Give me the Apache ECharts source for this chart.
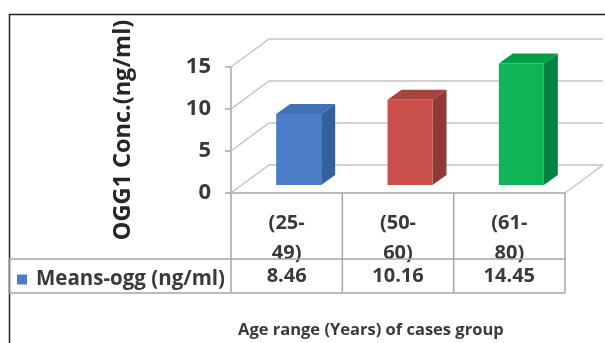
<!DOCTYPE html>
<html>
<head>
<meta charset="utf-8">
<script src="https://cdn.jsdelivr.net/npm/echarts@6/dist/echarts.min.js"></script>
<style>
  html, body { margin: 0; padding: 0; background: #fff; }
  #chart { width: 605px; height: 343px; }
</style>
</head>
<body>
<div id="chart"></div>
<script>
// ---- data ----
const categories = ['(25-\n49)', '(50-\n60)', '(61-\n80)'];
const meansOgg = [8.46, 10.16, 14.45];
const yTicks = [0, 5, 10, 15];
const seriesName = 'Means-ogg (ng/ml)';
const yTitle = 'OGG1 Conc.(ng/ml)';
const xTitle = 'Age range (Years) of cases group';

// ---- style ----
const FONT = '"Open Sans", Lato, sans-serif';
const TEXT = '#3a3a3a';
const GRID_LINE = '#c4c4c4';
const TABLE_LINE = '#a6a6a6';
const WALL_DEPTH = [38, -28];   // perspective offset of back wall / floor
const BAR_SHIFT = [12, -8];     // where the bar front face sits inside the floor
const BAR_DEPTH = [14, -10];    // depth of each bar
const BAR_WIDTH = 45;
const HEADER_H = 66;            // category row of the data table
const ROW_H = 34;               // value row of the data table
const LEGEND_LEFT = 9;
const faceColors = [
  { front: '#4a7ec8', side: '#35609f', top: '#4271b5' },
  { front: '#c9504b', side: '#8f3a38', top: '#a84440' },
  { front: '#10b356', side: '#00843f', top: '#009e48' }
];

// gridlines running along the side wall and back wall
function wallItem(params, api) {
  const cs = params.coordSys;
  const v = api.value(1);
  const y = api.coord([0, v])[1];
  const x0 = cs.x, x1 = cs.x + cs.width;
  const [dx, dy] = WALL_DEPTH;
  const children = [{
    type: 'polyline',
    shape: { points: [[x0, y], [x0 + dx, y + dy], [x1 + dx, y + dy]] },
    style: { stroke: GRID_LINE, lineWidth: 1.5, fill: null }
  }];
  if (v === 0) {
    children.push({
      type: 'line',
      shape: { x1: x1, y1: y, x2: x1 + dx, y2: y + dy },
      style: { stroke: GRID_LINE, lineWidth: 1.5 }
    });
  }
  return { type: 'group', children };
}

// 3D-looking bar: side, top and front faces
function barItem(params, api) {
  const i = api.value(0), v = api.value(1);
  const base = api.coord([i, 0]), top = api.coord([i, v]);
  const cx = base[0] + BAR_SHIFT[0];
  const xl = cx - BAR_WIDTH / 2, xr = cx + BAR_WIDTH / 2;
  const yb = base[1] + BAR_SHIFT[1], yt = top[1] + BAR_SHIFT[1];
  const [dx, dy] = BAR_DEPTH;
  const c = faceColors[i];
  return {
    type: 'group',
    children: [
      { type: 'polygon', shape: { points: [[xr, yb], [xr + dx, yb + dy], [xr + dx, yt + dy], [xr, yt]] }, style: { fill: c.side } },
      { type: 'polygon', shape: { points: [[xl, yt], [xr, yt], [xr + dx, yt + dy], [xl + dx, yt + dy]] }, style: { fill: c.top } },
      { type: 'rect', shape: { x: xl, y: yt, width: BAR_WIDTH, height: yb - yt }, style: { fill: c.front } }
    ]
  };
}

// data table under the plot: cell borders and the value of each category
function tableItem(params, api) {
  const cs = params.coordSys;
  const i = api.value(0), v = api.value(1);
  const band = api.size([1, 0])[0];
  const cx = api.coord([i, 0])[0];
  const floorY = cs.y + cs.height;
  const xl = cx - band / 2, xr = cx + band / 2;
  const rowTop = floorY + HEADER_H, rowBot = rowTop + ROW_H;
  const ls = { stroke: TABLE_LINE, lineWidth: 1.5 };
  const children = [
    { type: 'line', shape: { x1: xl, y1: floorY, x2: xl, y2: rowBot }, style: ls },
    { type: 'line', shape: { x1: xl, y1: rowTop, x2: xr, y2: rowTop }, style: ls },
    { type: 'line', shape: { x1: xl, y1: rowBot, x2: xr, y2: rowBot }, style: ls },
    {
      type: 'text',
      style: {
        x: cx, y: (rowTop + rowBot) / 2, text: String(v),
        align: 'center', verticalAlign: 'middle',
        font: 'bold 20px ' + FONT, fill: TEXT
      }
    }
  ];
  if (i === categories.length - 1) {
    children.push({ type: 'line', shape: { x1: xr, y1: floorY, x2: xr, y2: rowBot }, style: ls });
  }
  if (i === 0) {
    children.push(
      { type: 'line', shape: { x1: LEGEND_LEFT, y1: rowTop, x2: xl, y2: rowTop }, style: ls },
      { type: 'line', shape: { x1: LEGEND_LEFT, y1: rowBot, x2: xl, y2: rowBot }, style: ls },
      { type: 'line', shape: { x1: LEGEND_LEFT, y1: rowTop, x2: LEGEND_LEFT, y2: rowBot }, style: ls }
    );
  }
  return { type: 'group', children };
}

const chart = echarts.init(document.getElementById('chart'), null, { renderer: 'canvas' });
chart.setOption({
  animation: false,
  backgroundColor: '#fff',
  title: {
    text: xTitle,
    left: 238, top: 322, padding: 0,
    textStyle: { fontFamily: FONT, fontWeight: 'bold', fontSize: 16.5, color: TEXT }
  },
  legend: {
    data: [seriesName],
    left: 12, top: 264,
    icon: 'rect', itemWidth: 10, itemHeight: 10, itemGap: 6,
    textStyle: { fontFamily: FONT, fontWeight: 'bold', fontSize: 20.5, color: TEXT, padding: [0, 0, 0, 4] }
  },
  grid: { left: 231, top: 67, width: 334, height: 126 },
  xAxis: {
    type: 'category',
    data: categories,
    axisLine: { show: true, lineStyle: { color: TABLE_LINE, width: 1.5 } },
    axisTick: { show: false },
    axisLabel: { fontFamily: FONT, fontWeight: 'bold', fontSize: 20, color: TEXT, lineHeight: 30, margin: 15 },
    splitLine: { show: false }
  },
  yAxis: {
    type: 'value',
    min: 0, max: 15, interval: 5,
    name: yTitle,
    nameLocation: 'middle',
    nameGap: 96,
    nameTextStyle: { fontFamily: FONT, fontWeight: 'bold', fontSize: 23.5, color: '#262626' },
    axisLine: { show: true, lineStyle: { color: TABLE_LINE, width: 1.5 } },
    axisTick: { show: true, length: 6, lineStyle: { color: TABLE_LINE, width: 1.5 } },
    axisLabel: { fontFamily: FONT, fontWeight: 'bold', fontSize: 22, color: TEXT, margin: 20 },
    splitLine: { show: false }
  },
  graphic: [{
    type: 'rect', left: 7, top: 12, z: -10,
    shape: { width: 640, height: 400 },
    style: { fill: null, stroke: '#222', lineWidth: 1.5 }
  }],
  series: [
    {
      type: 'custom', name: 'walls', silent: true, z: 1,
      renderItem: wallItem,
      data: yTicks.map(v => [0, v])
    },
    {
      type: 'custom', name: seriesName, z: 3,
      itemStyle: { color: faceColors[0].front },
      renderItem: barItem,
      data: meansOgg.map((v, i) => [i, v])
    },
    {
      type: 'custom', name: 'table', silent: true, z: 2,
      renderItem: tableItem,
      data: meansOgg.map((v, i) => [i, v])
    }
  ]
});
</script>
</body>
</html>
